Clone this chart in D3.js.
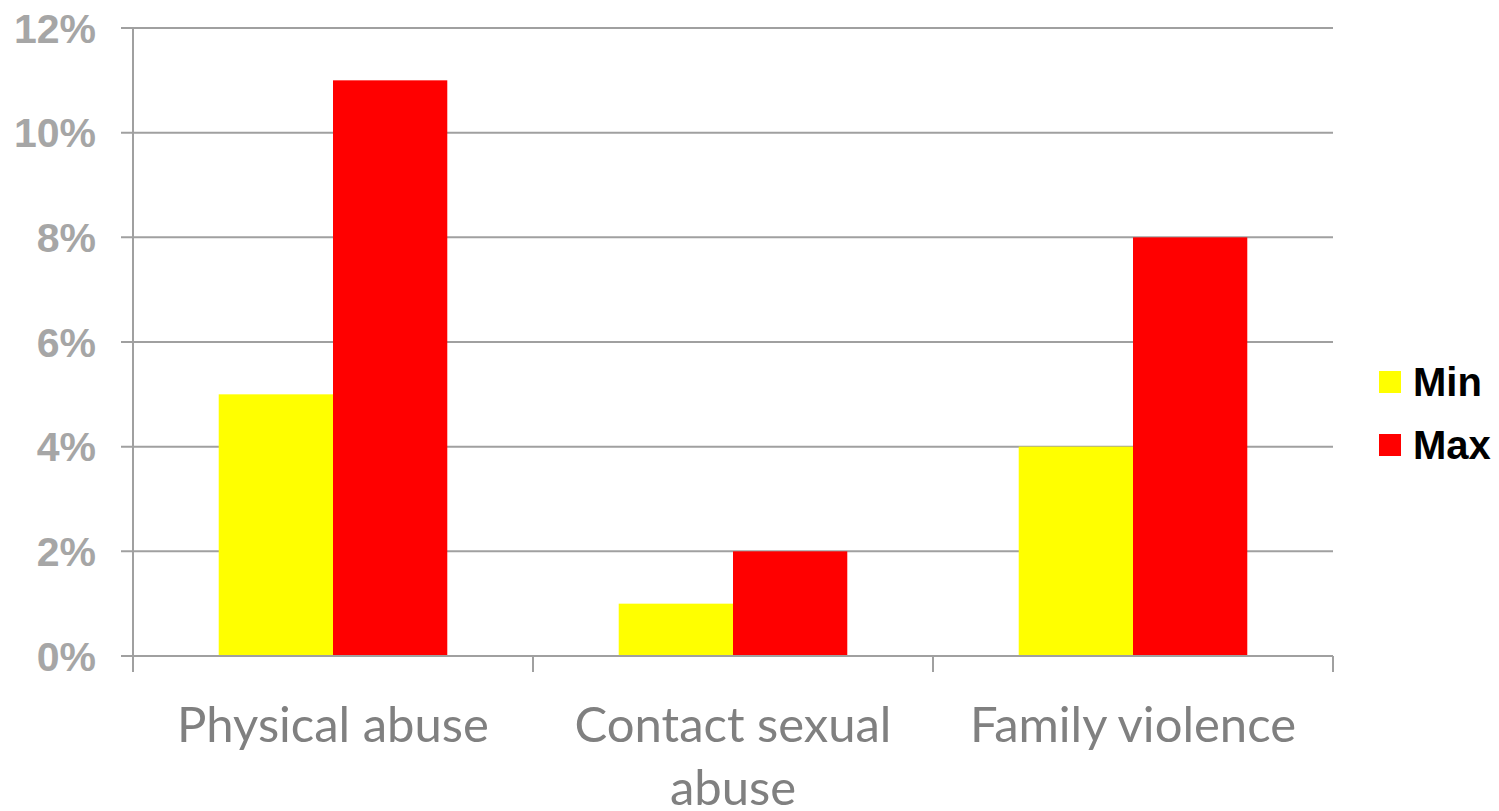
<!DOCTYPE html>
<html>
<head>
<meta charset="utf-8">
<script src="https://cdn.jsdelivr.net/npm/d3@7"></script>
<style>
  html, body { margin: 0; padding: 0; background: #fff; }
  svg { display: block; }
</style>
</head>
<body>
<div id="chart"></div>
<script>
const categories = [['Physical abuse'], ['Contact sexual', 'abuse'], ['Family violence']];
const seriesNames = ['Min', 'Max'];
const seriesColors = ['#ffff00', '#ff0000'];
const minValues = [0.05, 0.01, 0.04];
const maxValues = [0.11, 0.02, 0.08];
const yTicks = [0, 0.02, 0.04, 0.06, 0.08, 0.10, 0.12];

const width = 1499, height = 811;
const margin = { top: 28, right: 166, bottom: 155, left: 133 };

const svg = d3.select('#chart').append('svg')
  .attr('width', width)
  .attr('height', height);

const x = d3.scaleBand()
  .domain(d3.range(categories.length))
  .range([margin.left, width - margin.right])
  .paddingInner(0)
  .paddingOuter(0);

// gap width 150% -> bar = band / (2 + 1.5)
const barW = x.bandwidth() / 3.5;

const y = d3.scaleLinear()
  .domain([0, 0.12])
  .range([height - margin.bottom, margin.top]);

const gridColor = '#a0a0a0';

// Gridlines
svg.append('g')
  .selectAll('line')
  .data(yTicks)
  .join('line')
  .attr('x1', margin.left - 12)
  .attr('x2', width - margin.right)
  .attr('y1', d => y(d))
  .attr('y2', d => y(d))
  .attr('stroke', gridColor)
  .attr('stroke-width', 2);

// Bars
const series = [minValues, maxValues];
series.forEach((vals, si) => {
  svg.append('g')
    .selectAll('rect')
    .data(vals)
    .join('rect')
    .attr('x', (d, i) => x(i) + (x.bandwidth() - 2 * barW) / 2 + si * barW)
    .attr('y', d => y(d))
    .attr('width', barW)
    .attr('height', d => y(0) - y(d))
    .attr('fill', seriesColors[si]);
});

// Y axis line
svg.append('line')
  .attr('x1', margin.left).attr('x2', margin.left)
  .attr('y1', y(0.12)).attr('y2', y(0) + 16)
  .attr('stroke', gridColor)
  .attr('stroke-width', 2);

// X axis line on top of bars
svg.append('line')
  .attr('x1', margin.left).attr('x2', width - margin.right)
  .attr('y1', y(0)).attr('y2', y(0))
  .attr('stroke', gridColor)
  .attr('stroke-width', 2);

// X ticks at band boundaries
const xBounds = d3.range(categories.length + 1).map(i => margin.left + i * x.step());
svg.append('g')
  .selectAll('line')
  .data(xBounds)
  .join('line')
  .attr('x1', d => d).attr('x2', d => d)
  .attr('y1', y(0)).attr('y2', y(0) + 16)
  .attr('stroke', gridColor)
  .attr('stroke-width', 2);

// Y tick labels
svg.append('g')
  .selectAll('text')
  .data(yTicks)
  .join('text')
  .attr('x', 96)
  .attr('y', d => y(d))
  .attr('dy', '0.36em')
  .attr('text-anchor', 'end')
  .attr('font-family', 'Liberation Sans, Arial, sans-serif')
  .attr('font-weight', 'bold')
  .attr('font-size', 41)
  .attr('fill', '#a6a6a6')
  .text(d => d3.format('.0%')(d));

// Category labels
const catG = svg.append('g')
  .selectAll('text')
  .data(categories)
  .join('text')
  .attr('x', (d, i) => x(i) + x.bandwidth() / 2)
  .attr('y', 742)
  .attr('text-anchor', 'middle')
  .attr('font-family', 'Lato, "Open Sans", sans-serif')
  .attr('font-size', 49)
  .attr('fill', '#808080');
catG.selectAll('tspan')
  .data(d => d)
  .join('tspan')
  .attr('x', function () { return d3.select(this.parentNode).attr('x'); })
  .attr('dy', (d, i) => i === 0 ? 0 : 63)
  .text(d => d);

// Legend
const legend = svg.append('g')
  .selectAll('g')
  .data(seriesNames)
  .join('g')
  .attr('transform', (d, i) => `translate(1379, ${371 + i * 63})`);
legend.append('rect')
  .attr('width', 22)
  .attr('height', 22)
  .attr('fill', (d, i) => seriesColors[i]);
legend.append('text')
  .attr('x', 34)
  .attr('y', 11)
  .attr('dy', '0.36em')
  .attr('font-family', 'Liberation Sans, Arial, sans-serif')
  .attr('font-weight', 'bold')
  .attr('font-size', 40)
  .attr('fill', '#000')
  .text(d => d);
</script>
</body>
</html>
